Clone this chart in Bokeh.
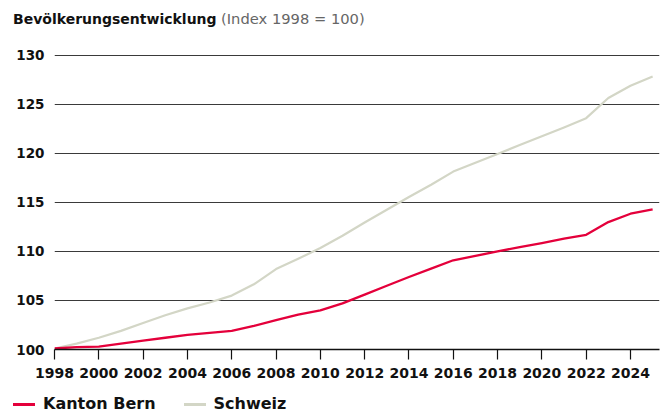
from bokeh.plotting import figure
from bokeh.models import FixedTicker, Range1d, Div, ColumnDataSource
from bokeh.layouts import column
from bokeh.embed import file_html
from bokeh.resources import INLINE

# ---- data ----
years = list(range(1998, 2026))
bern = [100.1, 100.25, 100.3, 100.6, 100.9, 101.2, 101.5, 101.7, 101.9, 102.4,
        103.0, 103.55, 104.0, 104.7, 105.6, 106.5, 107.4, 108.25, 109.1, 109.55,
        110.0, 110.45, 110.85, 111.3, 111.7, 113.0, 113.85, 114.3]
schweiz = [100.1, 100.6, 101.2, 101.9, 102.7, 103.5, 104.2, 104.8, 105.5, 106.65,
           108.2, 109.25, 110.35, 111.6, 112.95, 114.25, 115.55, 116.8, 118.15, 119.05,
           119.95, 120.85, 121.75, 122.65, 123.6, 125.65, 126.9, 127.85]
x_ticks = list(range(1998, 2025, 2))
y_ticks = [100, 105, 110, 115, 120, 125, 130]
series_names = ["Kanton Bern", "Schweiz"]
title_main = "Bevölkerungsentwicklung"
title_sub = "(Index 1998 = 100)"

FONT = "DejaVu Sans"
RED = "#e4003b"
GREY = "#d3d6c6"
series_colors = [RED, GREY]

src = ColumnDataSource(dict(year=years, bern=bern, schweiz=schweiz))

# ---- title as HTML (bold + grey parts) ----
title_div = Div(
    text=(f'<div style="padding:11px 0 0 13px; font-family:\'{FONT}\'; '
          f'font-size:14px; line-height:16px; white-space:nowrap; color:#111111">'
          f'<span style="font-weight:bold">{title_main}</span> '
          f'<span style="color:#666666; font-size:14.7px">{title_sub}</span></div>'),
    width=664, height=36, margin=0)

p = figure(width=664, height=356, output_backend="svg", toolbar_location=None,
           title=None,
           x_range=Range1d(1998, 2025.31), y_range=Range1d(100, 130.5),
           min_border_left=54, min_border_right=5, min_border_top=14,
           min_border_bottom=43, margin=0)
p.outline_line_color = None
p.background_fill_color = "white"
p.border_fill_color = "white"

# grid
p.xgrid.visible = False
p.ygrid.ticker = FixedTicker(ticks=y_ticks)
p.ygrid.grid_line_color = "#3a3a3a"
p.ygrid.grid_line_width = 1

# x axis
p.xaxis.ticker = FixedTicker(ticks=x_ticks)
p.xaxis.axis_line_color = "#111111"
p.xaxis.axis_line_width = 1.6
p.xaxis.major_tick_line_color = "#111111"
p.xaxis.major_tick_line_width = 1.2
p.xaxis.major_tick_out = 10
p.xaxis.major_tick_in = 0
p.xaxis.minor_tick_line_color = None
p.xaxis.major_label_text_font = FONT
p.xaxis.major_label_text_font_style = "bold"
p.xaxis.major_label_text_font_size = "14px"
p.xaxis.major_label_text_color = "#111111"
p.xaxis.major_label_standoff = 8

# y axis
p.yaxis.ticker = FixedTicker(ticks=y_ticks)
p.yaxis.axis_line_color = None
p.yaxis.major_tick_line_color = None
p.yaxis.minor_tick_line_color = None
p.yaxis.major_tick_out = 0
p.yaxis.major_tick_in = 0
p.yaxis.major_label_text_font = FONT
p.yaxis.major_label_text_font_style = "bold"
p.yaxis.major_label_text_font_size = "13.5px"
p.yaxis.major_label_text_color = "#111111"
p.yaxis.major_label_standoff = 10

# lines
p.line("year", "schweiz", source=src, line_color=GREY, line_width=2.2,
       line_join="round")
p.line("year", "bern", source=src, line_color=RED, line_width=2.3,
       line_join="round")

# ---- legend as HTML ----
def swatch(color, left):
    return (f'<span style="display:inline-block; width:22px; height:3px; '
            f'background:{color}; vertical-align:middle; '
            f'margin:0 8px 0 {left}px"></span>')

legend_html = ''.join(
    swatch(c, 0 if i == 0 else 28) + f'<span>{name}</span>'
    for i, (name, c) in enumerate(zip(series_names, series_colors)))
legend_div = Div(
    text=(f'<div style="padding:2px 0 0 13px; font-family:\'{FONT}\'; '
          f'font-size:16px; font-weight:bold; line-height:20px; '
          f'white-space:nowrap; color:#111111">{legend_html}</div>'),
    width=664, height=22, margin=0)

layout = column(title_div, p, legend_div, spacing=0, margin=0)
open("out.html", "w").write(file_html(layout, INLINE))
